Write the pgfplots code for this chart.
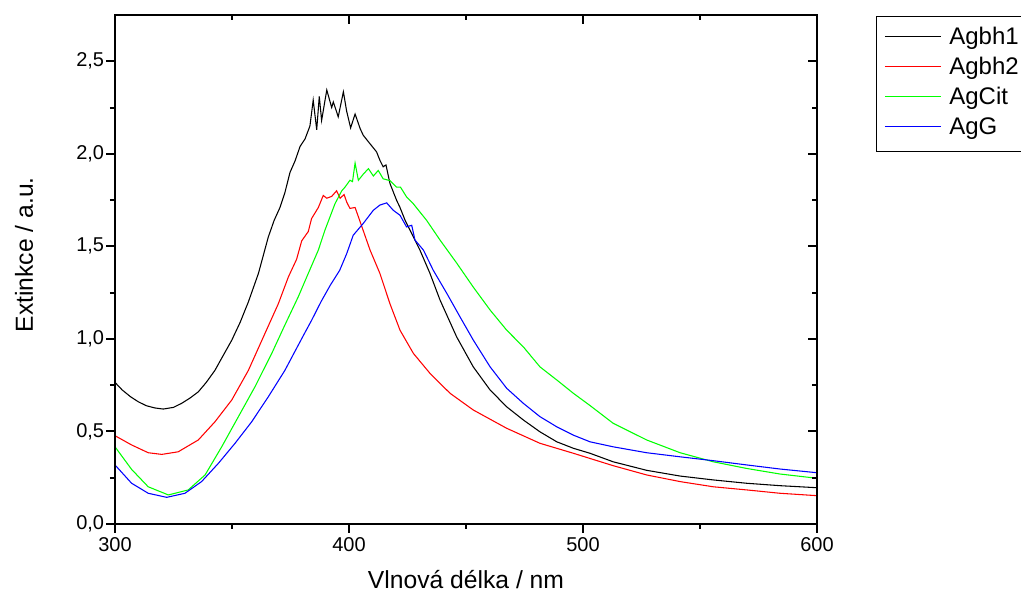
\documentclass[border=0pt]{standalone}
\usepackage{fontspec}
\setmainfont{Liberation Sans}
\usepackage{pgfplots}
\pgfplotsset{compat=1.18}

\begin{document}
\begin{tikzpicture}
\useasboundingbox (0,0) rectangle (765.75pt,448.5pt);
\pgfplotsset{
  common/.style={
    at={(86.25pt,55.5pt)}, anchor=south west,
    width=526.5pt, height=381.75pt, scale only axis,
    xmin=300, xmax=600, ymin=0, ymax=2.75,
    xtick={300,400,500,600}, ytick={0,0.5,1,1.5,2,2.5},
    minor x tick num=1, minor y tick num=1,
    axis line style={line width=1.5pt},
    every tick/.style={line width=1.5pt, black},
    major tick length=6.5pt, minor tick length=3.75pt,
  }
}
\begin{axis}[common,
  xtick pos=left, ytick pos=left, tick align=outside,
  xticklabels={300,400,500,600},
  yticklabels={{0,0},{0,5},{1,0},{1,5},{2,0},{2,5}},
  ticklabel style={font=\fontsize{15}{18}\selectfont},
  yticklabel style={inner xsep=1.5pt},
  xlabel={Vlnová délka / nm},
  ylabel={Extinkce / a.u.},
  xlabel style={font=\fontsize{18.5}{21}\selectfont, at={([yshift=-48.75pt]axis description cs:0.5,0)}, anchor=base},
  ylabel style={font=\fontsize{18.5}{21}\selectfont, at={([xshift=-61.5pt,yshift=11pt]axis description cs:0,0.5)}, anchor=base},
  legend style={at={(axis description cs:1,1)}, anchor=north west, xshift=44.25pt, yshift=-0.75pt,
    draw=black, thin, inner xsep=6pt, inner ysep=5.5pt,
    font=\fontsize{18}{21}\selectfont, column sep=6pt, row sep=0pt,
    nodes={inner xsep=0pt, inner ysep=2.5pt, text height=13.5pt, text depth=4pt}},
  legend cell align=left,
  legend image code/.code={\draw[#1, line width=0.8pt] (0pt,1.5pt) -- (42pt,1.5pt);},
  every axis plot/.append style={line width=0.8pt},
]
\addplot[black] coordinates {
(300,0.765)(303,0.725)(306.7,0.687)(310,0.66)(313.4,0.639)(317,0.627)(320.6,0.621)(325,0.63)
(328.5,0.652)(332,0.68)(335.6,0.714)(339,0.765)(342.7,0.83)(346,0.905)(349.9,0.993)(353.5,1.09)
(357,1.20)(361.3,1.354)(365.5,1.55)(368,1.64)(370.5,1.71)(372.6,1.79)(374.8,1.90)(376.9,1.96)
(379.1,2.04)(381.2,2.08)(383.3,2.15)(384.7,2.29)(386.2,2.13)(387.3,2.31)(388.3,2.18)(390.5,2.345)
(392.6,2.25)(393.3,2.28)(395.4,2.20)(397.6,2.335)(399,2.23)(400.7,2.14)(402.6,2.215)(404.8,2.135)
(406.1,2.10)(408.3,2.065)(411.8,2.01)(413.2,1.965)(414.6,1.93)(415.8,1.94)(417.5,1.84)(420.3,1.75)
(421.8,1.71)(424,1.64)(426.1,1.587)(430.3,1.48)(434.6,1.354)(438.9,1.21)(446,1.011)(453.1,0.849)
(460.3,0.724)(467.4,0.633)(474.5,0.562)(481.6,0.498)(488.8,0.444)(495.9,0.409)(503,0.382)
(512.9,0.336)(527.2,0.29)(541.5,0.259)(555.7,0.238)(570,0.22)(584.2,0.207)(600,0.196)
};
\addlegendentry{Agbh1}
\addplot[red] coordinates {
(300,0.477)(307.1,0.427)(314.2,0.385)(320,0.376)(327,0.39)(335.6,0.454)(342.7,0.552)(349.9,0.67)
(357,0.83)(364.1,1.03)(369.8,1.19)(374.1,1.335)(377.6,1.43)(379.8,1.53)(382.6,1.58)(384,1.65)
(386.9,1.71)(389,1.775)(390.5,1.76)(392.6,1.77)(394.7,1.80)(396.2,1.76)(397.9,1.78)(399,1.74)
(400.4,1.705)(402.6,1.71)(404.7,1.635)(409,1.48)(413.2,1.354)(417.5,1.19)(421.8,1.047)(427.5,0.922)
(434.6,0.814)(443.2,0.706)(453.1,0.616)(467.4,0.517)(481.6,0.436)(495.9,0.382)(512.9,0.315)
(527.2,0.265)(541.5,0.229)(555.7,0.201)(570,0.184)(584.2,0.166)(600,0.153)
};
\addlegendentry{Agbh2}
\addplot[green] coordinates {
(300,0.417)(307.1,0.295)(314.2,0.201)(322.8,0.157)(331.3,0.184)(338.5,0.265)(345.6,0.417)(352.7,0.579)
(359.8,0.741)(367,0.922)(372.6,1.075)(378.3,1.227)(382.6,1.354)(386.9,1.48)(389.7,1.587)(391.9,1.66)
(394,1.73)(396.9,1.80)(398.3,1.82)(400.4,1.857)(401.5,1.85)(402.6,1.95)(404,1.857)(406.1,1.89)
(408.3,1.92)(410.4,1.88)(412.5,1.91)(414.6,1.865)(417.5,1.855)(420.3,1.82)(422,1.82)(424.6,1.767)
(427.5,1.73)(433.2,1.64)(438.9,1.534)(446,1.41)(453.1,1.28)(460.3,1.156)(467.4,1.047)(474.5,0.957)
(481.6,0.849)(488.8,0.778)(495.9,0.706)(503,0.64)(512.9,0.544)(527.2,0.454)(541.5,0.385)
(555.7,0.336)(570,0.30)(584.2,0.27)(600,0.247)
};
\addlegendentry{AgCit}
\addplot[blue] coordinates {
(300,0.319)(307.1,0.22)(314.2,0.166)(322.1,0.144)(329.9,0.166)(337,0.229)(344.2,0.328)(351.3,0.436)
(358.4,0.552)(365.5,0.687)(372.6,0.83)(378.3,0.966)(381,1.03)(384,1.10)(388,1.20)(392,1.29)(396,1.37)
(399,1.46)(401.8,1.56)(406.1,1.624)(410.4,1.695)(413.2,1.723)(416.1,1.735)(418.9,1.695)
(421.8,1.668)(424.6,1.605)(426.8,1.614)(428.2,1.534)(431.8,1.48)(436,1.371)(441.8,1.246)(447.4,1.12)
(453.1,0.994)(460.3,0.849)(467.4,0.733)(474.5,0.652)(481.6,0.58)(488.8,0.525)(495.9,0.48)(503,0.444)
(512.9,0.417)(527.2,0.385)(541.5,0.363)(555.7,0.342)(570,0.319)(584.2,0.297)(600,0.277)
};
\addlegendentry{AgG}
\end{axis}
\begin{axis}[common,
  xtick pos=right, ytick pos=right, tick align=inside,
  xticklabels={}, yticklabels={},
]
\end{axis}
\end{tikzpicture}
\end{document}
